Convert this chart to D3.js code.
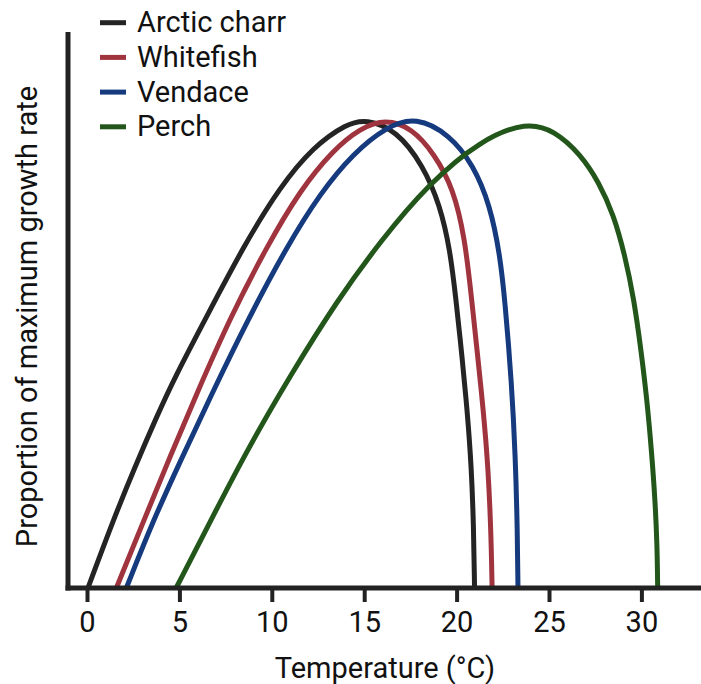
<!DOCTYPE html>
<html>
<head>
<meta charset="utf-8">
<script src="https://cdn.jsdelivr.net/npm/d3@7"></script>
<style>
  body { margin: 0; background: #fff; }
  text { font-family: Roboto, "Noto Sans", sans-serif; fill: #111; }
</style>
</head>
<body>
<div id="chart"></div>
<script>
// species, in legend order
const species = ['Arctic charr', 'Whitefish', 'Vendace', 'Perch'];
const colors = ['#242424', '#a0343e', '#153a7e', '#22561a'];

// temperature (°C) / proportion of max growth
const charrT = [0.07, 1.42, 2.6, 3.77, 4.76, 6.5, 8.5, 10.44, 12.25, 14.05, 15.1, 16.75, 18.2, 19.1, 19.65, 19.97, 20.3, 20.58, 20.8, 20.92, 20.97];
const charrV = [0, 0.143, 0.257, 0.364, 0.449, 0.58, 0.73, 0.855, 0.941, 0.99, 1.0, 0.976, 0.9, 0.816, 0.72, 0.613, 0.49, 0.375, 0.257, 0.13, 0];
const whiteT = [1.61, 3.23, 4.49, 5.9, 7.8, 9.7, 11.53, 13.33, 14.77, 16.15, 17.6, 18.8, 19.82, 20.45, 20.8, 21.15, 21.44, 21.7, 21.86, 21.92];
const whiteV = [0, 0.157, 0.278, 0.41, 0.58, 0.725, 0.848, 0.934, 0.98, 1.0, 0.98, 0.925, 0.852, 0.745, 0.62, 0.49, 0.38, 0.26, 0.12, 0];
const vendT = [2.15, 3.59, 5.03, 6.6, 8.75, 10.81, 12.61, 14.41, 16.22, 17.8, 19.64, 20.9, 21.81, 22.35, 22.62, 22.98, 23.18, 23.29, 23.32];
const vendV = [0, 0.143, 0.267, 0.4, 0.575, 0.727, 0.841, 0.927, 0.984, 1.005, 0.966, 0.902, 0.816, 0.709, 0.61, 0.435, 0.28, 0.12, 0];
const perchT = [4.85, 6.8, 8.67, 11.0, 13.55, 15.9, 18.5, 21.3, 23.8, 25.3, 26.7, 27.7, 28.5, 29.1, 29.6, 30.0, 30.3, 30.55, 30.74, 30.85, 30.88];
const perchV = [0, 0.15, 0.293, 0.452, 0.613, 0.74, 0.862, 0.955, 0.994, 0.975, 0.925, 0.865, 0.795, 0.71, 0.615, 0.5, 0.4, 0.29, 0.186, 0.09, 0];

const xTicks = [0, 5, 10, 15, 20, 25, 30];

const series = [[charrT, charrV], [whiteT, whiteV], [vendT, vendV], [perchT, perchV]]
  .map(([t, v], i) => ({ name: species[i], color: colors[i], pts: t.map((d, k) => [d, v[k]]) }));

const W = 701, H = 684;
const svg = d3.select('#chart').append('svg').attr('width', W).attr('height', H);

const x = d3.scaleLinear().domain([0, 30]).range([87, 641.4]);
const y = d3.scaleLinear().domain([0, 1]).range([587, 119]);

// curves (basis smooths out reading noise)
const line = d3.line()
  .x(d => x(d[0]))
  .y(d => y(d[1]))
  .curve(d3.curveBasis);

svg.append('g').selectAll('path')
  .data(series)
  .join('path')
  .attr('d', d => line(d.pts))
  .attr('fill', 'none')
  .attr('stroke', d => d.color)
  .attr('stroke-width', 5);

// axes
const ax = svg.append('g').attr('class', 'axes');
ax.append('line')
  .attr('x1', 68).attr('x2', 68).attr('y1', 32).attr('y2', 590.5)
  .attr('stroke', '#222').attr('stroke-width', 5);
ax.append('line')
  .attr('x1', 65.5).attr('x2', 701).attr('y1', 588).attr('y2', 588)
  .attr('stroke', '#222').attr('stroke-width', 5);

const xAxis = d3.axisBottom(x).tickValues(xTicks).tickSize(14);
const gx = svg.append('g').attr('transform', 'translate(0,588)').call(xAxis);
gx.select('.domain').remove();
gx.selectAll('.tick line').attr('stroke', '#222').attr('stroke-width', 4);
gx.selectAll('.tick text')
  .attr('y', 43.5)
  .attr('dy', null)
  .attr('font-size', 29)
  .attr('font-family', 'Roboto, sans-serif')
  .attr('fill', '#111');

svg.append('text')
  .attr('x', 385).attr('y', 677.5)
  .attr('text-anchor', 'middle')
  .attr('font-size', 29)
  .text('Temperature (°C)');

svg.append('text')
  .attr('transform', 'translate(37,316.5) rotate(-90)')
  .attr('text-anchor', 'middle')
  .attr('font-size', 29)
  .text('Proportion of maximum growth rate');

// legend
const lg = svg.append('g').selectAll('g')
  .data(series)
  .join('g')
  .attr('transform', (d, i) => `translate(100,${22.7 + i * 34.7})`);
lg.append('line')
  .attr('x1', 0).attr('x2', 26)
  .attr('stroke', d => d.color).attr('stroke-width', 5);
lg.append('text')
  .attr('x', 37).attr('y', 9.5)
  .attr('font-size', 29)
  .text(d => d.name);
</script>
</body>
</html>
